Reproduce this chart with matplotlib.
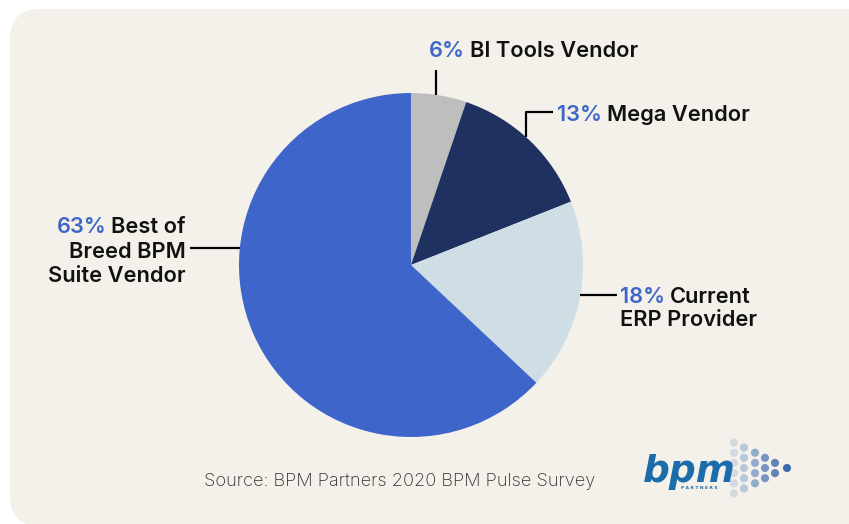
import numpy as np
import matplotlib
matplotlib.use("Agg")
import matplotlib.pyplot as plt
from matplotlib.patches import FancyBboxPatch

# ---- data ----
categories = ["BI Tools Vendor", "Mega Vendor", "Current\nERP Provider", "Best of\nBreed BPM\nSuite Vendor"]
values = [5.2, 13.8, 18.0, 63.0]
pct_labels = ["6%", "13%", "18%", "63%"]
colors = ["#BEBEBE", "#1F3161", "#CFDDE4", "#3E65C9"]
source_text = "Source: BPM Partners 2020 BPM Pulse Survey"

W, H = 849, 524
fig = plt.figure(figsize=(W / 100, H / 100), dpi=100)
fig.patch.set_facecolor("white")
ax = fig.add_axes([0, 0, 1, 1])
ax.set_xlim(0, W)
ax.set_ylim(0, H)
ax.axis("off")

def Y(y):  # convert top-based pixel to axis coords
    return H - y

bg = "#F4F1EA"
ax.add_patch(FancyBboxPatch((10, -2), 950, Y(9) + 2, boxstyle="round,pad=0,rounding_size=30",
                            facecolor=bg, edgecolor="none", zorder=0))

cx, cy, r = 411, Y(265), 172
wedges, _ = ax.pie(values, colors=colors, startangle=90, counterclock=False,
                   center=(cx, cy), radius=r, frame=True,
                   wedgeprops=dict(linewidth=0))
ax.set_xlim(0, W)
ax.set_ylim(0, H)
ax.set_aspect("equal")
ax.axis("off")

FONT = "Inter"
BLUE = "#3E65C9"
TXT = "#111111"
fs = 15.7
WT = "semibold"
lw = 1.6

def edge_y(x):
    return cy + np.sqrt(r ** 2 - (x - cx) ** 2)

def edge_x(y, side):
    return cx + side * np.sqrt(r ** 2 - (y - cy) ** 2)

def label_left(x, y, pct, rest):
    t = ax.text(x, y, pct, color=BLUE, fontsize=fs, fontweight=WT, family=FONT,
                ha="left", va="baseline")
    ax.annotate(rest, xy=(1, 0), xycoords=t, xytext=(3.8, 0), textcoords="offset points",
                color=TXT, fontsize=fs, fontweight=WT, family=FONT, ha="left", va="bottom")
    return t

# BI Tools (vertical leader)
lx = 436
ax.plot([lx, lx], [Y(70), edge_y(lx)], color="black", lw=lw, solid_capstyle="butt")
label_left(429, Y(57), pct_labels[0], categories[0])

# Mega Vendor (elbow leader)
mx = 526
ax.plot([mx, mx, 553], [edge_y(mx), Y(112), Y(112)], color="black", lw=lw, solid_capstyle="butt")
label_left(557, Y(121), pct_labels[1], categories[1])

# Current ERP
ey = Y(295)
ax.plot([edge_x(ey, 1), 617], [ey, ey], color="black", lw=lw, solid_capstyle="butt")
lines = categories[2].split("\n")
label_left(620, Y(303), pct_labels[2], lines[0])
ax.text(620, Y(326), lines[1], color=TXT, fontsize=fs, fontweight=WT, family=FONT,
        ha="left", va="baseline")

# Best of Breed
by = Y(248)
ax.plot([190, edge_x(by, -1)], [by, by], color="black", lw=lw, solid_capstyle="butt")
lines = categories[3].split("\n")
t1 = ax.text(186, Y(233), lines[0], color=TXT, fontsize=fs, fontweight=WT, family=FONT,
             ha="right", va="baseline")
ax.annotate(pct_labels[3], xy=(0, 0), xycoords=t1, xytext=(-3.8, 0), textcoords="offset points",
            color=BLUE, fontsize=fs, fontweight=WT, family=FONT, ha="right", va="bottom")
ax.text(186, Y(257.5), lines[1], color=TXT, fontsize=fs, fontweight=WT, family=FONT,
        ha="right", va="baseline")
ax.text(186, Y(282), lines[2], color=TXT, fontsize=fs, fontweight=WT, family=FONT,
        ha="right", va="baseline")

# Source
ax.text(400, Y(481), source_text, color="#2e2e2e", fontsize=13.1, family=FONT,
        fontweight="light", ha="center", va="center")

# Logo
ax.text(643, Y(482), "bpm", color="#1C6CAB", fontsize=27, fontweight="bold", style="italic",
        family="DejaVu Sans", ha="left", va="baseline")
ax.text(681, Y(489), "P A R T N E R S", color="#1C6CAB", fontsize=3.2, fontweight="bold",
        family="DejaVu Sans", ha="left", va="baseline")
dot_cols = [(734, 6, "#D3DAE5"), (744, 5, "#B9C7DB"), (755, 4, "#93ABCD"),
            (765, 3, "#7795C3"), (775, 2, "#5F82B8"), (787, 1, "#3F6AAA")]
for x, n, c in dot_cols:
    ys = 468 + (np.arange(n) - (n - 1) / 2) * 10.2
    ax.scatter([x] * n, [Y(v) for v in ys], s=34, color=c, edgecolors="none", zorder=1)

fig.savefig("out.png", dpi=100, facecolor=fig.get_facecolor())
